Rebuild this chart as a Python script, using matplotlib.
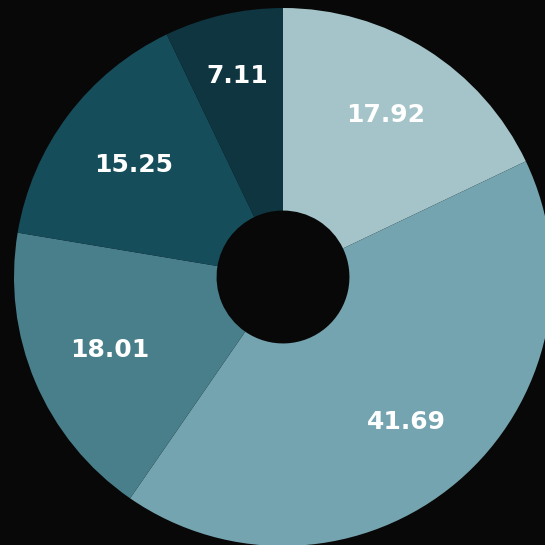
import matplotlib
matplotlib.use("Agg")
import matplotlib.pyplot as plt

values = [17.92, 41.69, 18.01, 15.25, 7.11]
labels = ["17.92", "41.69", "18.01", "15.25", "7.11"]
colors = ["#a4c4c9", "#74a4af", "#487f8b", "#164d5b", "#0e3540"]

# how far out each label sits (fraction of the radius)
label_r = [0.714, 0.706, 0.701, 0.694, 0.766]

bg = "#080808"
fig = plt.figure(figsize=(5.45, 5.45), dpi=100, facecolor=bg)
ax = fig.add_axes([0, 0, 1, 1])
ax.set_facecolor(bg)

wedges, texts = ax.pie(values, colors=colors, startangle=90, counterclock=False,
                       radius=1.0, labels=labels, labeldistance=1.0,
                       wedgeprops=dict(width=0.753, linewidth=0))
for t, r in zip(texts, label_r):
    x, y = t.get_position()
    t.set_position((x * r, y * r))
    t.set_color("white")
    t.set_fontsize(18)
    t.set_fontweight("bold")
    t.set_fontfamily("DejaVu Sans")
    t.set_ha("center")
    t.set_va("center")

# centre at pixel (283, 277), radius 269 px
ax.set_xlim(-283 / 269, (545 - 283) / 269)
ax.set_ylim(-(545 - 277) / 269, 277 / 269)
ax.set_aspect("equal")
ax.axis("off")

fig.savefig("out.png", dpi=100, facecolor=bg)
